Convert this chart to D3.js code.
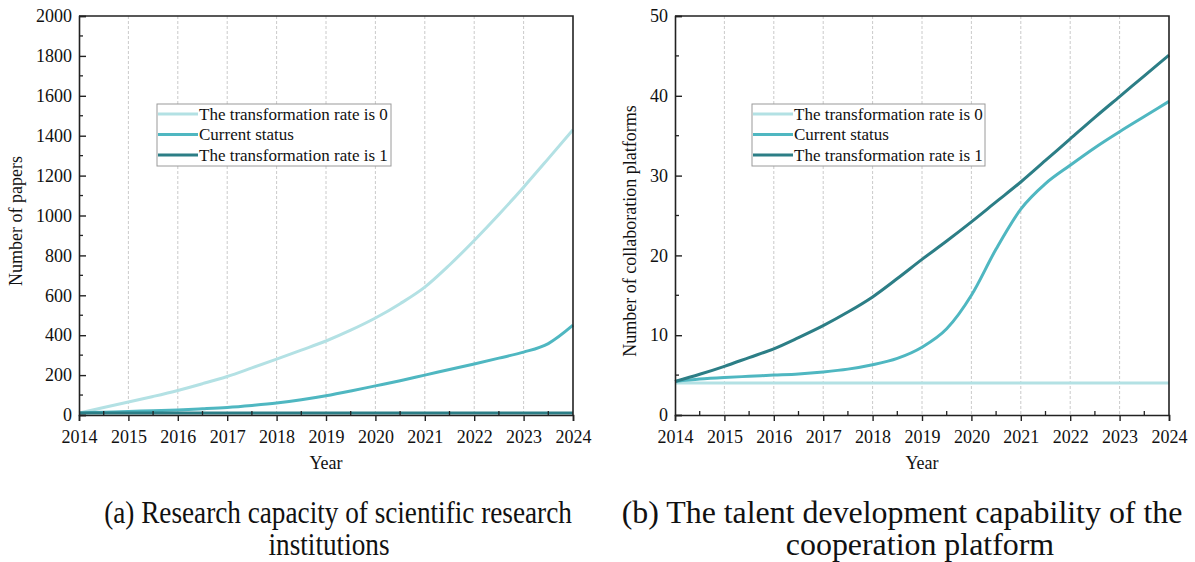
<!DOCTYPE html>
<html>
<head>
<meta charset="utf-8">
<script src="https://cdn.jsdelivr.net/npm/d3@7"></script>
<style>
  html, body { margin: 0; padding: 0; background: #fff; }
  svg { display: block; }
  svg text { font-family: "Times New Roman", "Liberation Serif", Tinos, Times, serif !important; fill: #111; }
</style>
</head>
<body>
<svg id="chart" width="1195" height="562"></svg>
<script>
// Sampling years (half-year steps)
const years = [2014, 2014.5, 2015, 2015.5, 2016, 2016.5, 2017, 2017.5, 2018, 2018.5,
               2019, 2019.5, 2020, 2020.5, 2021, 2021.5, 2022, 2022.5, 2023, 2023.5, 2024];
const xTickYears = [2014, 2015, 2016, 2017, 2018, 2019, 2020, 2021, 2022, 2023, 2024];
const seriesNames = ["The transformation rate is 0", "Current status", "The transformation rate is 1"];
const seriesColors = ["#b3e1e4", "#4fb7c1", "#2c7e86"];

// (a) Number of papers
const papersRate0   = [10, 38, 65, 93, 123, 157, 193, 236, 280, 325, 371, 425, 486, 558, 641, 752, 875, 1005, 1142, 1285, 1430];
const papersCurrent = [10, 14, 18, 21, 25, 31, 38, 48, 60, 76, 96, 120, 146, 172, 200, 228, 256, 285, 315, 358, 450];
const papersRate1   = [10, 10, 10, 10, 10, 10, 10, 10, 10, 10, 10, 10, 10, 10, 10, 10, 10, 10, 10, 10, 10];
const papersTicks = [0, 200, 400, 600, 800, 1000, 1200, 1400, 1600, 1800, 2000];

// (b) Number of collaboration platforms
const platformsRate0   = [4, 4, 4, 4, 4, 4, 4, 4, 4, 4, 4, 4, 4, 4, 4, 4, 4, 4, 4, 4, 4];
const platformsCurrent = [4.2, 4.5, 4.7, 4.85, 5.0, 5.15, 5.4, 5.75, 6.3, 7.1, 8.5, 10.8, 15.0, 20.8, 25.8, 29.0, 31.3, 33.5, 35.5, 37.4, 39.3];
const platformsRate1   = [4.2, 5.1, 6.1, 7.2, 8.3, 9.7, 11.2, 12.9, 14.8, 17.1, 19.5, 21.8, 24.2, 26.7, 29.2, 31.9, 34.6, 37.3, 39.9, 42.5, 45.1];
const platformsTicks = [0, 10, 20, 30, 40, 50];

const captionsA = ["(a) Research capacity of scientific research", "institutions"];
const captionsB = ["(b) The talent development capability of the", "cooperation platform"];

const svg = d3.select("#chart");

function drawPanel(opt) {
  const g = svg.append("g");
  const x = d3.scaleLinear().domain([2014, 2024]).range([opt.left, opt.left + 494]);
  const y = d3.scaleLinear().domain(opt.yDomain).range([415, 16]);

  // vertical dashed grid lines at each year
  g.append("g").selectAll("line")
    .data(xTickYears.slice(1, -1))
    .join("line")
    .attr("x1", d => x(d)).attr("x2", d => x(d))
    .attr("y1", y.range()[1]).attr("y2", y.range()[0])
    .attr("stroke", "#c4c4c4").attr("stroke-width", 0.9)
    .attr("stroke-dasharray", "3,2");

  // series lines
  const line = d3.line().x((d, i) => x(years[i])).y(d => y(d)).curve(d3.curveMonotoneX);
  opt.series.forEach((vals, k) => {
    g.append("path").datum(vals)
      .attr("fill", "none")
      .attr("stroke", seriesColors[k])
      .attr("stroke-width", 3)
      .attr("d", line);
  });

  // frame (top and right)
  g.append("path")
    .attr("d", `M${x.range()[0]},${y.range()[1]}H${x.range()[1]}V${y.range()[0]}`)
    .attr("fill", "none").attr("stroke", "#222").attr("stroke-width", 1.6);

  // x axis
  const xAxis = d3.axisBottom(x).tickValues(xTickYears).tickFormat(d3.format("d"))
    .tickSize(6).tickPadding(9);
  const xg = g.append("g").attr("transform", `translate(0,415)`).call(xAxis);
  xg.select(".domain").attr("stroke", "#222").attr("stroke-width", 1.6);
  xg.selectAll(".tick line").attr("stroke", "#222").attr("stroke-width", 1.4);
  xg.selectAll(".tick text").attr("font-size", 18).attr("fill", "#111");
  // minor x ticks (inside)
  g.append("g").selectAll("line")
    .data(years.filter(v => v % 1 !== 0))
    .join("line")
    .attr("x1", d => x(d)).attr("x2", d => x(d))
    .attr("y1", 415).attr("y2", 411)
    .attr("stroke", "#222").attr("stroke-width", 1.3);

  // y axis (ticks pointing inward)
  const yAxis = d3.axisLeft(y).tickValues(opt.yTicks).tickFormat(d3.format("d"))
    .tickSize(-7).tickPadding(8);
  const yg = g.append("g").attr("transform", `translate(${opt.left},0)`).call(yAxis);
  yg.select(".domain").attr("stroke", "#222").attr("stroke-width", 1.6);
  yg.selectAll(".tick line").attr("stroke", "#222").attr("stroke-width", 1.4);
  yg.selectAll(".tick text").attr("font-size", 18).attr("fill", "#111").attr("x", -7);
  // minor y ticks
  g.append("g").selectAll("line")
    .data(opt.yMinor)
    .join("line")
    .attr("x1", opt.left).attr("x2", opt.left + 4)
    .attr("y1", d => y(d)).attr("y2", d => y(d))
    .attr("stroke", "#222").attr("stroke-width", 1.3);

  // axis titles
  g.append("text").attr("x", x(2019)).attr("y", 469)
    .attr("text-anchor", "middle").attr("font-size", 18).text("Year");
  g.append("text")
    .attr("transform", `translate(${opt.yTitleX},${opt.yTitleCenter}) rotate(-90)`)
    .attr("text-anchor", "middle").attr("font-size", 18).text(opt.yTitle);

  // legend
  const lg = g.append("g");
  lg.append("rect")
    .attr("x", opt.legendX).attr("y", 104)
    .attr("width", opt.legendW).attr("height", 62)
    .attr("fill", "#fff").attr("stroke", "#9a9a9a").attr("stroke-width", 1);
  seriesNames.forEach((name, k) => {
    const cy = 114 + k * 20.5;
    lg.append("line")
      .attr("x1", opt.legendX + 1).attr("x2", opt.legendX + 41)
      .attr("y1", cy).attr("y2", cy)
      .attr("stroke", seriesColors[k]).attr("stroke-width", 3);
    lg.append("text")
      .attr("x", opt.legendX + 42).attr("y", cy + 5.5)
      .attr("font-size", 17).text(name);
  });

  // caption, narrowed horizontally to the printed width
  const cap = g.append("g");
  const t1 = cap.append("text").attr("text-anchor", "middle").attr("font-size", 31)
    .attr("x", 0).attr("y", 0).text(opt.caption[0]);
  const natural = t1.node().getComputedTextLength();
  const s = opt.captionW / natural;
  t1.attr("transform", `translate(${opt.captionX},523) scale(${s},1)`);
  cap.append("text").attr("text-anchor", "middle").attr("font-size", 31)
    .attr("transform", `translate(${opt.caption2X},555) scale(${s},1)`)
    .text(opt.caption[1]);
}

drawPanel({
  left: 79,
  yDomain: [0, 2000],
  yTicks: papersTicks,
  yMinor: d3.range(100, 2000, 200),
  yTitle: "Number of papers",
  yTitleX: 22,
  yTitleCenter: 221,
  series: [papersRate0, papersCurrent, papersRate1],
  legendX: 157, legendW: 234,
  caption: captionsA, captionX: 338, captionW: 468, caption2X: 329
});

drawPanel({
  left: 675,
  yDomain: [0, 50],
  yTicks: platformsTicks,
  yMinor: d3.range(5, 50, 10),
  yTitle: "Number of collaboration platforms",
  yTitleX: 636,
  yTitleCenter: 231,
  series: [platformsRate0, platformsCurrent, platformsRate1],
  legendX: 752, legendW: 233,
  caption: captionsB, captionX: 902, captionW: 561, caption2X: 920
});
</script>
</body>
</html>
